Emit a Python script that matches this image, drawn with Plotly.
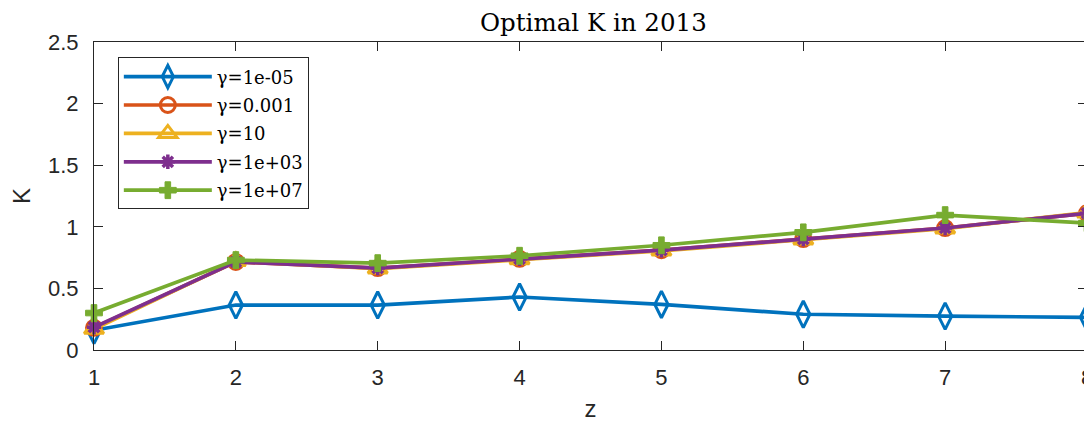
import plotly.graph_objects as go

z = [1, 2, 3, 4, 5, 6, 7, 8]
names = ["γ=1e-05", "γ=0.001", "γ=10", "γ=1e+03", "γ=1e+07"]
k_1em05 = [0.16, 0.365, 0.365, 0.43, 0.37, 0.29, 0.275, 0.265]
k_0001 = [0.18, 0.715, 0.665, 0.74, 0.81, 0.90, 0.99, 1.11]
k_10 = [0.17, 0.72, 0.66, 0.735, 0.805, 0.895, 0.985, 1.115]
k_1ep03 = [0.185, 0.715, 0.665, 0.74, 0.81, 0.90, 0.99, 1.11]
k_1ep07 = [0.30, 0.73, 0.705, 0.765, 0.85, 0.955, 1.095, 1.03]
y_ticks = [0, 0.5, 1, 1.5, 2, 2.5]
y_ticktext = ["0", "0.5", "1", "1.5", "2", "2.5"]

series = [k_1em05, k_0001, k_10, k_1ep03, k_1ep07]
colors = ["#0072BD", "#D95319", "#EDB120", "#7E2F8E", "#77AC30"]
symbols = ["diamond-tall-open", "circle-open", "triangle-up-open", "asterisk-open", "cross"]
sizes = [19, 15, 17, 12, 14]
mlw = [3, 3, 3, 3.5, 1]

fig = go.Figure()
for i, (nm, ys, c, s, sz, lw) in enumerate(zip(names, series, colors, symbols, sizes, mlw)):
    fig.add_trace(go.Scatter(
        x=z, y=ys, name=nm, mode="lines+markers", legendgroup=f"g{i}",
        line=dict(color=c, width=3.7),
        marker=dict(symbol=s, size=sz, color=c, line=dict(color=c, width=lw)),
        cliponaxis=False,
    ))

axis_common = dict(
    showline=True, linecolor="#262626", linewidth=1, mirror="ticks",
    ticks="inside", ticklen=9, tickcolor="#262626", showgrid=False, zeroline=False,
    automargin=False, ticklabeloverflow="allow",
    tickfont=dict(family="Liberation Sans, Arial, sans-serif", size=22, color="#262626"),
)
fig.update_xaxes(range=[1, 8], tickvals=z, ticklabelstandoff=8,
                 title=dict(text="z", font=dict(family="Liberation Sans, Arial", size=24, color="#262626"), standoff=10),
                 **axis_common)
fig.update_yaxes(range=[0, 2.5], tickvals=y_ticks, ticktext=y_ticktext, ticklabelstandoff=10,
                 title=dict(text="K", font=dict(family="Liberation Sans, Arial", size=24, color="#262626"), standoff=15),
                 **axis_common)

fig.update_layout(
    width=1084, height=417,
    margin=dict(l=86, r=5, t=34, b=75),
    paper_bgcolor="white", plot_bgcolor="white",
    title=dict(text="Optimal K in 2013", x=0.54, xanchor="center", y=0.965, yanchor="middle",
               font=dict(family="DejaVu Serif, serif", size=24.5, color="black")),
    legend=dict(x=0.024, y=0.95, xanchor="left", yanchor="top", bgcolor="white",
                bordercolor="#262626", borderwidth=1,
                font=dict(family="DejaVu Serif, serif", size=18, color="black"),
                itemwidth=88, tracegroupgap=2),
    showlegend=True,
)

fig.write_html("out.html")
